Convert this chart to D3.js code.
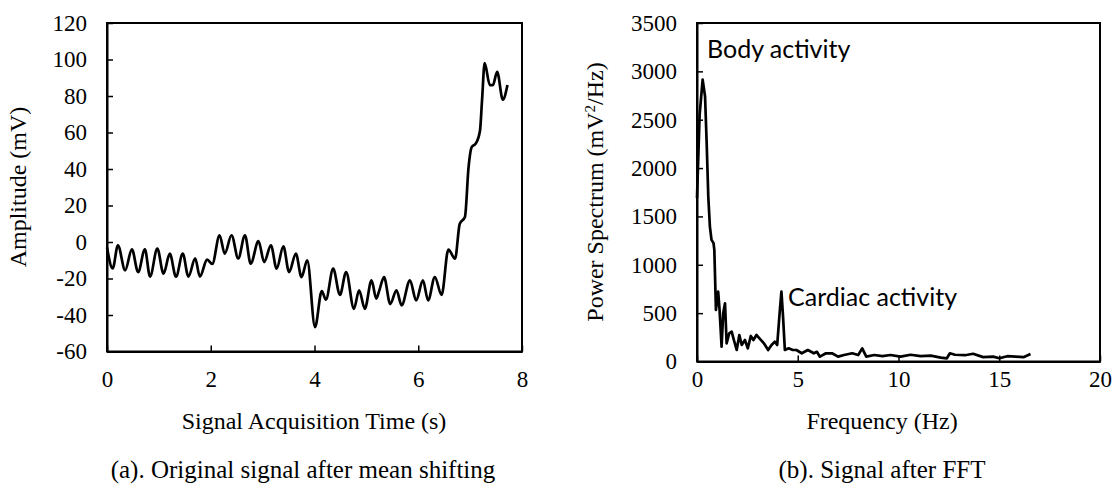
<!DOCTYPE html>
<html><head><meta charset="utf-8">
<script src="https://cdn.jsdelivr.net/npm/d3@7"></script>
<style>
body{margin:0;background:#fff;}
svg{display:block;}
text{fill:#000;}
</style></head>
<body>
<svg id="c" width="1115" height="495"></svg>
<script>
// ---------- Data: (a) original signal after mean shifting ----------
const timeS = [0.00,0.11,0.21,0.35,0.48,0.60,0.73,0.83,0.97,1.09,1.21,1.33,1.46,1.57,1.70,1.79,1.93,2.03,2.17,2.27,2.40,2.53,2.66,2.77,2.92,3.03,3.16,3.27,3.40,3.51,3.64,3.75,3.86,4.01,4.14,4.22,4.36,4.49,4.61,4.76,4.86,4.97,5.10,5.19,5.25,5.34,5.46,5.58,5.68,5.84,5.96,6.09,6.19,6.32,6.45,6.58,6.71,6.80,6.90,6.97,7.03,7.11,7.19,7.23,7.28,7.38,7.44,7.52,7.63,7.72];
const amplitude = [-3,-14.5,-1.8,-15.5,-4,-16.5,-4,-19,-3.6,-17.4,-6.4,-19,-6.4,-19,-9,-19,-9.7,-12,3.7,-6.4,3.7,-9,3.7,-11.9,0.5,-11,-1.8,-14.6,-2.4,-16.5,-6.4,-19.2,-10,-46.6,-26.9,-31.6,-14.6,-29,-16.5,-36.6,-26.5,-36.6,-21,-31,-26.5,-19.2,-34,-26.5,-34.7,-21,-32,-21,-32,-19.2,-29,-4.2,-9.1,10,13.7,41,52,54,61,77.8,98,86,86,93.3,78,86];
const ampTicks = [-60,-40,-20,0,20,40,60,80,100,120];
const timeTicks = [0,2,4,6,8];

// ---------- Data: (b) signal after FFT ----------
const freqHz = [0.00,0.13,0.28,0.40,0.48,0.56,0.64,0.72,0.82,0.86,0.94,1.05,1.12,1.22,1.30,1.39,1.47,1.60,1.72,1.83,1.97,2.10,2.22,2.38,2.52,2.67,2.80,2.95,3.10,3.32,3.53,3.70,3.86,3.98,4.10,4.19,4.27,4.36,4.55,4.75,4.93,5.20,5.50,5.80,5.95,6.10,6.40,6.70,7.00,7.30,7.70,8.00,8.20,8.40,8.80,9.20,9.60,10.10,10.60,11.10,11.60,12.10,12.40,12.55,12.80,13.30,13.70,14.20,14.70,15.00,15.40,15.80,16.20,16.55];
const power = [1690,2550,2914,2740,2260,1706,1395,1258,1224,1154,533,723,533,153,499,602,188,292,309,222,119,274,171,222,136,264,222,274,240,188,119,171,205,171,499,723,464,119,136,119,119,85,119,85,100,50,85,85,50,67,85,67,136,50,67,55,67,50,70,55,60,40,33,85,70,65,80,45,50,33,55,50,45,78];
const powerTicks = [0,500,1000,1500,2000,2500,3000,3500];
const freqTicks = [0,5,10,15,20];

const svg = d3.select("#c");
const serif = "Liberation Serif";
const sans = "Lato";

function panel(o){
  const x = d3.scaleLinear().domain(o.xDomain).range([o.left,o.right]);
  const y = d3.scaleLinear().domain(o.yDomain).range([o.bottom,o.top]);
  const g = svg.append("g");
  g.append("rect").attr("x",o.left).attr("y",o.top)
    .attr("width",o.right-o.left).attr("height",o.bottom-o.top)
    .attr("fill","none").attr("stroke","#000").attr("stroke-width",2);
  const fmt = d => String(d);
  const ya = g.append("g").attr("transform",`translate(${o.left},0)`)
    .call(d3.axisLeft(y).tickValues(o.yTicks).tickFormat(fmt).tickSize(-6).tickPadding(o.yPad).tickSizeOuter(0));
  const xa = g.append("g").attr("transform",`translate(0,${o.bottom})`)
    .call(d3.axisBottom(x).tickValues(o.xTicks).tickFormat(fmt).tickSize(-6).tickPadding(o.xPad).tickSizeOuter(0));
  [ya,xa].forEach(a=>{
    a.attr("font-family",serif).attr("font-size",23);
    a.select(".domain").attr("stroke","#000").attr("stroke-width",2);
    a.selectAll(".tick line").attr("stroke","#000").attr("stroke-width",1.5);
    a.selectAll(".tick text").attr("fill","#000");
  });
  const line = d3.line().x(d=>x(d[0])).y(d=>y(d[1])).curve(o.curve);
  g.append("path").datum(d3.zip(o.xs,o.ys)).attr("d",line)
    .attr("fill","none").attr("stroke","#000").attr("stroke-width",2.7).attr("stroke-linejoin","round");
  return {x,y,g};
}

panel({left:107,right:522,top:23,bottom:351.5,xDomain:[0,8],yDomain:[-60,120],
  xTicks:timeTicks,yTicks:ampTicks,xPad:19,yPad:20,xs:timeS,ys:amplitude,curve:d3.curveMonotoneX});
panel({left:697,right:1100,top:23,bottom:361.5,xDomain:[0,20],yDomain:[0,3500],
  xTicks:freqTicks,yTicks:powerTicks,xPad:9,yPad:20,xs:freqHz,ys:power,curve:d3.curveLinear});

function label(x,y,rot,size,txt,fam){
  return svg.append("text").attr("transform",`translate(${x},${y})`+(rot?` rotate(${rot})`:""))
    .attr("text-anchor","middle").attr("font-family",fam||serif).attr("font-size",size).text(txt);
}
// axis titles
label(26,187,-90,24,"Amplitude (mV)");
label(314,429,0,24,"Signal Acquisition Time (s)");
const pt = label(603,192,-90,24,"");
pt.append("tspan").text("Power Spectrum (mV");
pt.append("tspan").attr("baseline-shift","super").attr("font-size",15).text("2");
pt.append("tspan").text("/Hz)");
label(882,429,0,24,"Frequency (Hz)");

// captions
label(303,478,0,25,"(a). Original signal after mean shifting");
label(882,478,0,25,"(b). Signal after FFT");

// annotations
svg.append("text").attr("x",707).attr("y",58).attr("font-family",sans).attr("font-size",25).text("Body activity");
svg.append("text").attr("x",788).attr("y",306).attr("font-family",sans).attr("font-size",25).text("Cardiac activity");
</script>
</body></html>
